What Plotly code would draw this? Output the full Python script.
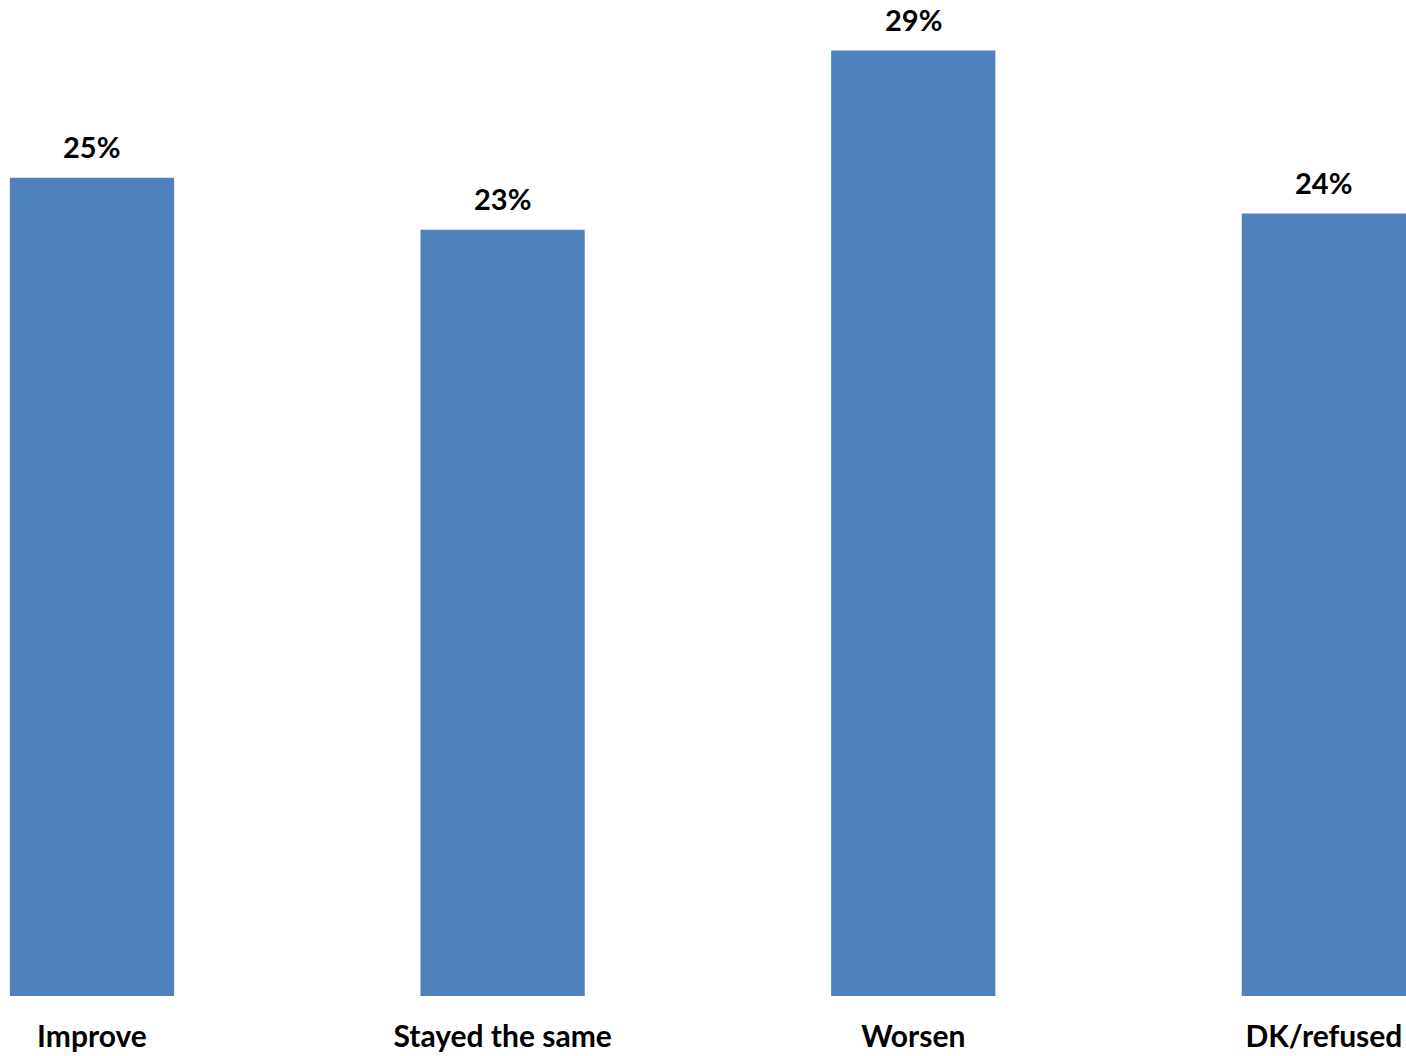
import plotly.graph_objects as go

categories = ["Improve", "Stayed the same", "Worsen", "DK/refused"]
values = [25.1, 23.5, 29.0, 24.0]
labels = ["25%", "23%", "29%", "24%"]

BAR_COLOR = "#4F81BD"
FONT = "Lato, 'Open Sans', sans-serif"

fig = go.Figure()
fig.add_trace(go.Bar(
    x=categories,
    y=values,
    marker=dict(color=BAR_COLOR, line=dict(width=0)),
    width=0.4,
    hoverinfo="skip",
))

for c, v, t in zip(categories, values, labels):
    fig.add_annotation(
        x=c, y=v, text=f"<b>{t}</b>", showarrow=False,
        yanchor="bottom", yshift=12,
        font=dict(family=FONT, size=29, color="#000000"),
    )

fig.update_layout(
    width=1406, height=1056,
    margin=dict(l=0, r=0, t=0, b=60, pad=0),
    paper_bgcolor="white", plot_bgcolor="white",
    showlegend=False,
    xaxis=dict(
        type="category",
        range=[-0.224, 3.2],
        showgrid=False, showline=False, zeroline=False,
        ticks="", tickfont=dict(family=FONT, size=30, color="#000000"),
        tickprefix="<b>", ticksuffix="</b>",
        ticklabelstandoff=20,
    ),
    yaxis=dict(
        range=[0, 30.55],
        showgrid=False, showline=False, zeroline=False,
        showticklabels=False, ticks="",
    ),
)

fig.write_html("out.html", config={"displayModeBar": False},
               post_script="document.body.style.margin='0px';")
